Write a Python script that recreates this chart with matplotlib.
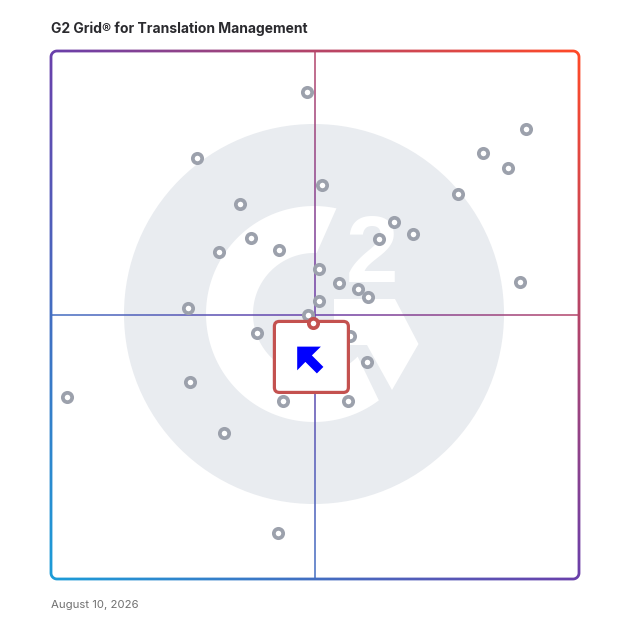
import numpy as np
import matplotlib
matplotlib.use("Agg")
import matplotlib.pyplot as plt
from matplotlib.collections import LineCollection
from matplotlib.patches import Circle, Polygon, FancyBboxPatch
from matplotlib.path import Path
from matplotlib.colors import LinearSegmentedColormap

title = "G2 Grid® for Translation Management"
date_label = "August 10, 2026"

# Satisfaction (x) and Market Presence (y), scaled 0-100
satisfaction = [48.5, 90.0, 81.9, 86.6, 27.7, 51.4, 77.1, 35.8, 65.0, 68.6,
                62.1, 37.9, 43.1, 31.8, 50.8, 54.5, 58.2, 60.1, 88.9, 50.8,
                25.9, 48.6, 39.0, 56.6, 59.9, 26.4, 3.0, 43.9, 56.3, 32.8, 42.9]
market_presence = [92.3, 85.2, 80.7, 77.8, 79.8, 74.6, 72.9, 71.0, 67.7, 65.3,
                   64.4, 64.6, 62.3, 61.9, 58.8, 56.0, 54.9, 53.4, 56.3, 52.7,
                   51.3, 50.0, 46.6, 46.1, 41.1, 37.4, 34.5, 33.7, 33.7, 27.7, 8.8]
highlight_x = [49.6]
highlight_y = [48.5]

W = 628
fig = plt.figure(figsize=(6.28, 6.28), dpi=100)
fig.patch.set_facecolor("white")

# background (pixel coordinates, y downwards)
bg = fig.add_axes([0, 0, 1, 1])
bg.set_xlim(0, W)
bg.set_ylim(W, 0)
bg.axis("off")
bg.set_zorder(0)

# G2 watermark
cx, cy = 314, 314
bg.add_patch(Circle((cx, cy), 190, color="#e9ecf0", lw=0, zorder=0))
def arcpts(r, a0, a1, n=120):
    a = np.radians(np.linspace(a0, a1, n))
    return np.column_stack([cx + r * np.cos(a), cy - r * np.sin(a)])
outer = arcpts(108, 78, 306.9)
inner = arcpts(61, 315.7, 87.5)
gpoly = np.vstack([outer, inner])
bg.add_patch(Polygon(gpoly, closed=True, color="white", lw=0, zorder=1))
chev = [(334, 299), (395, 299), (418.5, 344), (392, 390), (367, 345), (334, 345)]
bg.add_patch(Polygon(chev, closed=True, color="white", lw=0, zorder=1))
bg.text(372, 282, "2", family="Liberation Sans", fontweight="bold",
        fontsize=68, color="white", ha="center", va="baseline", zorder=1)

# main axes
ax = fig.add_axes([51 / W, 49 / W, 528 / W, 528 / W])
ax.set_xlim(0, 100)
ax.set_ylim(0, 100)
ax.axis("off")
ax.patch.set_alpha(0)
ax.set_zorder(3)

cmap = LinearSegmentedColormap.from_list("g2", ["#1c9cd8", "#6a40ab", "#ff4a28"])
def grad_line(xs, ys, lw, z, cap):
    pts = np.column_stack([xs, ys])
    segs = np.stack([pts[:-1], pts[1:]], axis=1)
    mid = (pts[:-1] + pts[1:]) / 2
    t = (mid[:, 0] / 100 + mid[:, 1] / 100) / 2
    lc = LineCollection(segs, colors=cmap(t), linewidths=lw, zorder=z,
                        clip_on=False, capstyle=cap)
    ax.add_collection(lc)

# quadrant lines
xmid = (ax.get_xlim()[0] + ax.get_xlim()[1]) / 2
ymid = (ax.get_ylim()[0] + ax.get_ylim()[1]) / 2
n = 300
grad_line(np.linspace(0, 100, n), np.full(n, ymid), 1.1, 2, "butt")
grad_line(np.full(n, xmid), np.linspace(0, 100, n), 1.1, 2, "butt")

# rounded gradient border: gradient image clipped to a rounded-rect ring
def rrect(x0, y0, x1, y1, r, ccw=True):
    pts = []
    for (ccx, ccy, a0) in [(x1 - r, y0 + r, -90), (x1 - r, y1 - r, 0),
                           (x0 + r, y1 - r, 90), (x0 + r, y0 + r, 180)]:
        a = np.radians(np.linspace(a0, a0 + 90, 16))
        pts.append(np.column_stack([ccx + r * np.cos(a), ccy + r * np.sin(a)]))
    p = np.vstack(pts)
    return p if ccw else p[::-1]

px = 100 / 528.0
hw = 1.4 * px
rad = 6 * px
o = rrect(-hw, -hw, 100 + hw, 100 + hw, rad + hw)
i = rrect(hw, hw, 100 - hw, 100 - hw, rad - hw, ccw=False)
verts = np.vstack([o, o[:1], i, i[:1]])
codes = ([Path.MOVETO] + [Path.LINETO] * (len(o) - 1) + [Path.CLOSEPOLY] +
         [Path.MOVETO] + [Path.LINETO] * (len(i) - 1) + [Path.CLOSEPOLY])
border = Path(verts, codes)
g = np.linspace(-2, 102, 400)
GX, GY = np.meshgrid(g, g)
grad = (GX / 100 + GY / 100) / 2
im = ax.imshow(grad, cmap=cmap, vmin=0, vmax=1, origin="lower",
               extent=(-2, 102, -2, 102), interpolation="bilinear",
               zorder=3, aspect="auto")
im.set_clip_path(border, transform=ax.transData)
im.set_clip_box(fig.bbox)
ax.set_xlim(0, 100)
ax.set_ylim(0, 100)

# product points
ax.plot(satisfaction, market_presence, "o", ms=6.7, mfc="white", mec="#9ca1ac",
        mew=2.7, zorder=4, clip_on=False)

# highlighted product card (positioned in pixels relative to the point)
hx_disp, hy_disp = ax.transData.transform((highlight_x[0], highlight_y[0]))
hx, hy = bg.transData.inverted().transform((hx_disp, hy_disp))
card = FancyBboxPatch((hx - 38.5, hy - 1.5), 74, 71,
                      boxstyle="round,pad=0,rounding_size=5",
                      fc="white", ec="#c4514f", lw=2.3, zorder=5,
                      transform=bg.transData, clip_on=False)
ax.add_patch(card)
arrow = np.array([(-15.7, 23.7), (8, 23.7), (-1, 32.5), (10.5, 44), (4, 50.5),
                  (-7.5, 39), (-15.7, 47.4)]) + np.array([hx, hy])
ax.add_patch(Polygon(arrow, closed=True, color="#0000ff", lw=0, zorder=6,
                     transform=bg.transData, clip_on=False))
ax.plot(highlight_x, highlight_y, "o", ms=6.7, mfc="white", mec="#c4514f",
        mew=2.7, zorder=7, clip_on=False)

fig.text(51 / W, 1 - 29 / W, title, family="Inter", fontweight="bold",
         fontsize=10.0, color="#2a2a2e", ha="left", va="center")
fig.text(51 / W, 1 - 605 / W, date_label, family="Inter",
         fontsize=8.2, color="#707070", ha="left", va="center")

fig.savefig("out.png", dpi=100)
